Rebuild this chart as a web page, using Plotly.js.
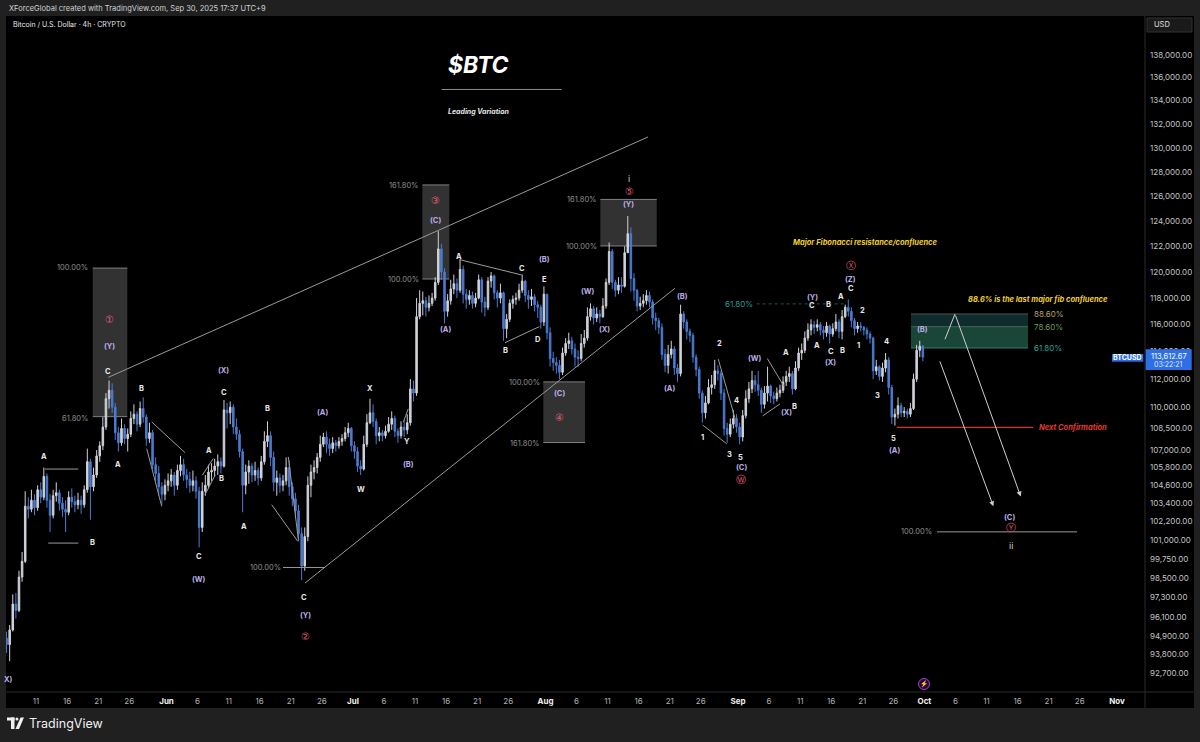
<!DOCTYPE html>
<html><head><meta charset="utf-8">
<script src="https://cdn.plot.ly/plotly-3.0.1.min.js"></script>
<style>html,body{margin:0;padding:0;background:#202020;overflow:hidden}#chart{width:1200px;height:742px}</style>
</head><body><div id="chart"></div>
<script>
// ---------- price data: 12h candles, values in thousands of USD ----------
const firstOpen = 94.8;
const startMay = '2025-05-06', startJun = '2025-06-01', startJul = '2025-07-01', startAug = '2025-08-01', startSep = '2025-09-01';

const closeMay = [94.4,95.3, 96.9,96.5, 98.6,99.6, 103.2,103.0, 103.6,103.1, 104.3,103.8, 105.2,103.6, 102.6,103.9, 104.1,103.4, 103.0,102.8,
  103.8,103.5, 103.3,103.6, 103.3,104.3, 106.2,104.5, 105.3,106.6, 107.3,108.6, 110.6,111.2, 110.0,108.2, 107.5,108.5, 107.8,108.1,
  109.2,109.5, 108.8,109.9, 109.3,107.8, 108.2,106.0, 105.4,104.5, 104.0,104.6];
const highMay = [95.2,95.6, 97.5,97.6, 99.0,100.2, 104.2,103.8, 104.3,104.0, 104.6,104.8, 105.8,105.4, 104.0,104.3, 104.8,104.3, 103.8,103.6,
  104.2,104.4, 103.9,104.1, 103.9,104.6, 107.1,106.4, 105.8,107.0, 107.6,109.3, 111.0,111.9, 111.7,110.3, 108.6,109.2, 108.8,108.5,
  109.7,110.2, 109.7,110.4, 110.7,109.5, 108.9,108.4, 106.5,105.9, 104.8,105.0];
const lowMay = [93.9,93.4, 95.2,96.0, 96.4,98.3, 99.5,102.4, 102.8,102.6, 102.9,103.4, 103.6,103.1, 101.5,102.4, 103.5,102.9, 102.5,101.5,
  102.6,103.1, 102.8,103.0, 102.7,103.1, 104.1,102.3, 104.2,105.1, 106.2,107.0, 108.4,109.9, 109.6,107.7, 106.9,107.3, 107.4,106.9,
  107.9,108.8, 108.3,108.6, 108.9,107.3, 107.5,105.7, 104.9,103.9, 103.3,103.6];

const closeJun = [104.9,105.3, 104.6,105.6, 106.0,105.3, 105.0,104.6, 104.9,104.2, 101.8,104.2, 104.6,105.5, 105.6,105.9, 106.2,105.9, 109.8,109.6,
  110.0,108.6, 108.1,106.9, 104.6,105.5, 105.9,105.3, 105.6,105.1, 106.2,107.6, 108.0,106.5, 104.8,105.1, 104.6,104.9, 105.8,104.5,
  103.7,102.9, 101.4,99.3, 101.2,104.6, 105.5,105.8, 106.5,107.4, 107.9,107.4, 107.1,107.5, 107.3,107.6, 107.8,108.2, 108.5,107.3];
const highJun = [105.4,105.7, 105.5,106.0, 106.6,106.4, 105.7,105.5, 105.6,105.2, 104.5,104.8, 105.3,106.0, 106.1,106.4, 106.7,106.5, 110.5,110.3,
  110.4,110.2, 109.2,108.4, 107.1,106.0, 106.3,106.1, 106.2,105.8, 106.6,108.3, 109.0,108.3, 106.9,105.6, 105.4,105.3, 106.5,106.3,
  104.8,104.1, 103.3,101.8, 101.8,105.2, 106.0,106.3, 106.8,108.0, 108.2,108.3, 107.8,107.9, 107.7,107.9, 108.1,108.6, 108.9,108.6];
const lowJun = [104.2,104.5, 103.9,104.3, 105.2,104.9, 104.4,104.1, 104.2,103.7, 100.5,101.5, 103.9,104.4, 104.9,105.2, 105.3,105.4, 105.8,108.5,
  108.8,108.1, 107.7,106.5, 102.8,104.0, 104.7,104.8, 104.9,104.6, 104.9,106.0, 107.2,105.9, 104.2,103.9, 104.1,104.2, 104.6,103.9,
  103.2,102.4, 100.9,98.4, 99.0,100.9, 103.8,105.0, 105.4,106.2, 107.2,106.8, 106.6,106.8, 106.9,107.1, 107.3,107.6, 107.9,106.9];

const closeJul = [106.9,105.9, 105.7,107.4, 108.9,109.6, 109.0,108.0, 108.2,108.0, 108.3,108.8, 109.2,108.3, 108.0,108.6, 108.4,108.9, 111.3,111.0,
  116.6,117.6, 117.8,117.3, 117.6,118.0, 119.2,121.8, 120.0,117.0, 117.8,118.7, 119.1,118.6, 120.2,118.3, 117.9,118.2, 117.6,118.0,
  119.4,117.7, 117.3,119.3, 119.7,118.4, 118.0,118.4, 115.7,116.4, 117.6,117.9, 118.0,118.6, 119.3,118.2, 117.9,118.1, 117.5,117.3, 116.2,118.3];
const highJul = [107.6,107.2, 106.3,108.0, 109.5,110.6, 110.2,109.2, 108.6,108.4, 108.7,109.3, 109.7,109.4, 108.5,109.0, 109.1,109.5, 112.0,111.9,
  118.0,118.6, 118.5,118.1, 118.2,118.4, 119.6,123.2, 122.2,120.3, 118.3,119.4, 119.8,119.5, 121.0,120.5, 118.7,118.6, 118.5,118.4,
  119.8,119.6, 118.1,119.6, 120.0,119.8, 118.6,119.1, 118.5,116.8, 117.9,118.2, 118.4,119.1, 119.8,119.4, 118.6,118.7, 118.3,117.8, 117.5,118.9];
const lowJul = [106.4,105.5, 105.3,105.6, 107.2,108.8, 108.6,107.4, 107.6,107.6, 107.8,108.2, 108.4,107.9, 107.5,107.8, 107.9,108.1, 108.7,110.4,
  110.8,116.4, 116.7,116.6, 117.0,117.4, 117.8,119.0, 119.4,116.1, 116.6,117.5, 118.3,118.0, 118.4,117.6, 117.2,117.5, 117.2,117.3,
  117.9,116.9, 116.6,117.1, 118.8,117.9, 117.3,117.6, 114.8,115.0, 116.2,117.2, 117.5,117.8, 118.4,117.7, 117.2,117.4, 117.0,116.5, 115.7,115.9];

const closeAug = [115.4,113.5, 113.2,113.0, 112.5,113.9, 114.6,114.8, 114.2,113.6, 113.5,114.6, 115.0,116.6, 117.2,116.5, 116.8,116.6, 117.4,119.2,
  121.6,119.2, 118.6,119.0, 118.9,121.5, 123.0,119.5, 118.6,117.4, 117.6,117.8, 118.2,117.7, 116.5,116.3, 115.8,113.8, 113.0,113.8,
  114.2,112.8, 112.4,116.8, 116.2,115.5, 115.2,113.6, 112.7,111.0, 109.6,110.3, 111.4,111.6, 112.6,112.4, 111.0,108.5, 108.1,108.8, 109.2,108.6];
const highAug = [118.2,115.8, 114.0,113.6, 113.4,114.3, 115.0,115.4, 115.1,114.6, 114.1,115.3, 115.6,117.3, 117.6,117.4, 117.3,117.1, 118.0,119.5,
  122.3,121.8, 119.4,119.6, 119.6,122.0, 124.4,123.5, 119.9,118.7, 118.1,118.3, 118.6,118.5, 117.9,116.9, 116.5,116.1, 114.2,114.5,
  114.8,114.4, 113.1,117.5, 117.0,116.4, 115.7,115.4, 113.8,112.9, 111.2,110.8, 112.0,112.3, 113.4,113.0, 112.6,111.3, 108.9,109.2, 109.8,109.5];
const lowAug = [114.9,112.9, 112.6,112.4, 112.0,112.3, 113.7,114.2, 113.8,112.9, 112.9,113.3, 114.3,114.8, 116.3,116.0, 116.2,116.1, 116.5,117.2,
  119.0,118.7, 118.1,118.3, 118.4,118.8, 121.5,118.5, 117.8,117.0, 117.1,117.3, 117.5,117.3, 116.0,115.6, 115.3,113.4, 112.5,112.4,
  113.5,112.3, 111.8,112.2, 115.7,114.9, 114.7,113.2, 112.2,110.6, 108.9,109.2, 110.2,110.9, 111.3,111.9, 110.5,108.0, 107.5,107.9, 108.5,108.2];

const closeSep = [107.9,109.4, 110.6,111.3, 111.9,111.6, 111.2,110.2, 111.0,111.5, 110.8,110.6, 111.0,111.2, 111.8,112.2, 112.4,111.3, 112.8,113.9,
  114.1,115.0, 115.6,116.0, 115.8,116.0, 115.6,115.4, 115.9,115.3, 115.7,116.2, 115.5,116.6, 117.3,117.0, 116.3,115.7, 115.9,115.8,
  115.6,115.3, 115.0,112.6, 112.9,112.2, 112.8,113.4, 111.4,109.3, 109.5,110.1, 109.6,109.7, 109.5,109.9, 112.0,114.1, 114.4,113.6];
const highSep = [108.9,109.8, 111.2,111.8, 112.6,112.3, 112.6,111.4, 111.5,112.9, 111.6,111.1, 111.4,111.6, 112.2,112.6, 112.9,112.6, 113.3,114.3,
  114.6,115.5, 116.1,116.4, 116.3,116.4, 116.2,115.9, 116.2,116.0, 116.1,116.8, 116.4,117.1, 117.5,117.9, 117.3,116.5, 116.2,116.2,
  115.9,115.8, 115.5,115.1, 113.4,113.0, 113.2,113.9, 113.6,111.6, 109.9,110.7, 110.3,110.0, 109.9,110.3, 112.4,114.5, 114.8,114.5];
const lowSep = [107.4,107.6, 109.2,110.3, 111.0,111.1, 110.8,109.6, 109.9,110.4, 110.3,110.2, 110.4,110.7, 111.0,111.5, 111.8,110.9, 111.2,112.6,
  113.4,113.9, 114.8,115.2, 115.3,115.5, 115.2,114.9, 115.1,114.6, 115.1,115.5, 115.0,114.9, 116.5,116.6, 115.8,115.2, 115.4,115.5,
  115.2,114.9, 114.6,112.0, 112.3,111.9, 111.8,112.5, 110.9,108.8, 108.7,109.2, 109.3,109.3, 109.2,109.3, 109.8,111.8, 113.6,113.3];

const lastPriceText = '113,612.67';
const countdownText = '03:22:21';

// ---------- axis ticks ----------
const priceTicks = [138000,136000,134000,132000,130000,128000,126000,124000,122000,120000,118000,116000,114000,112000,110000,
  108500,107000,105800,104600,103400,102200,101000,99750,98500,97300,96100,94900,93800,92700];
const dateTicks = ['2025-05-11','2025-05-16','2025-05-21','2025-05-26','2025-06-01','2025-06-06','2025-06-11','2025-06-16','2025-06-21','2025-06-26',
  '2025-07-01','2025-07-06','2025-07-11','2025-07-16','2025-07-21','2025-07-26','2025-08-01','2025-08-06','2025-08-11','2025-08-16','2025-08-21','2025-08-26',
  '2025-09-01','2025-09-06','2025-09-11','2025-09-16','2025-09-21','2025-09-26','2025-10-01','2025-10-06','2025-10-11','2025-10-16','2025-10-21','2025-10-26','2025-11-01'];
const dateTickLabels = ['11','16','21','26','Jun','6','11','16','21','26','Jul','6','11','16','21','26','Aug','6','11','16','21','26',
  'Sep','6','11','16','21','26','Oct','6','11','16','21','26','Nov'];

// ---------- wave labels: [time, price (k), text, style] ----------
const waveLabels = [
  ['2025-05-12 08:00',106.59,'A','w'],['2025-05-20 03:00',100.84,'B','w'],['2025-05-22 15:00',112.52,'C','w'],
  ['2025-05-24 06:00',105.98,'A','w'],['2025-05-27 21:30',111.36,'B','w'],['2025-06-07 19:00',106.94,'A','w'],
  ['2025-06-09 22:00',105.05,'B','w'],['2025-06-06 07:00',99.89,'C','w'],['2025-06-10 06:00',111.01,'C','w'],
  ['2025-06-13 11:30',101.85,'A','w'],['2025-06-17 07:00',109.87,'B','w'],['2025-06-23 04:00',97.28,'C','w'],
  ['2025-07-03 18:15',111.33,'X','w'],['2025-07-02 07:30',104.29,'W','w'],['2025-07-09 18:15',107.59,'Y','w'],
  ['2025-07-18 03:10',121.2,'A','w'],['2025-07-28 04:20',120.29,'C','w'],['2025-07-31 18:30',119.39,'E','w'],
  ['2025-07-25 15:30',114.05,'B','w'],['2025-07-30 20:25',114.9,'D','w'],
  ['2025-08-26 07:30',107.9,'1','w'],['2025-08-28 23:35',114.62,'2','w'],['2025-08-30 13:10',106.71,'3','w'],
  ['2025-08-31 16:10',110.44,'4','w'],['2025-09-01 07:40',106.49,'5','w'],
  ['2025-09-10 00:15',110.03,'B','w'],['2025-09-08 17:15',113.94,'A','w'],['2025-09-12 22:50',117.41,'C','w'],
  ['2025-09-15 12:40',117.49,'B','w'],['2025-09-13 18:15',114.49,'A','w'],['2025-09-15 22:00',114.0,'C','w'],
  ['2025-09-17 20:25',114.12,'B','w'],['2025-09-17 13:40',118.11,'A','w'],['2025-09-19 04:20',118.75,'C','w'],
  ['2025-09-21 00:00',117.06,'2','w'],['2025-09-20 08:40',114.49,'1','w'],['2025-09-24 19:40',114.73,'4','w'],
  ['2025-09-23 10:05',110.8,'3','w'],['2025-09-25 23:45',107.83,'5','w'],
  ['2025-05-06 11:45',92.32,'X)','p'],['2025-05-22 19:00',114.39,'(Y)','p'],['2025-06-10 06:00',112.6,'(X)','p'],
  ['2025-06-06 07:00',98.43,'(W)','p'],['2025-06-26 03:30',109.59,'(A)','p'],['2025-06-23 07:00',96.18,'(Y)','p'],
  ['2025-07-09 22:00',106.03,'(B)','p'],['2025-07-14 08:00',124.07,'(C)','p'],['2025-07-15 20:00',115.66,'(A)','p'],
  ['2025-07-31 19:30',121.0,'(B)','p'],['2025-08-07 21:30',118.5,'(W)','p'],['2025-08-10 11:20',115.66,'(X)','p'],
  ['2025-08-14 08:10',125.33,'(Y)','p'],['2025-08-03 05:30',111.0,'(C)','p'],['2025-08-23 00:45',118.16,'(B)','p'],
  ['2025-08-20 21:20',111.36,'(A)','p'],['2025-09-01 11:30',105.78,'(C)','p'],['2025-09-03 17:30',113.5,'(W)','p'],
  ['2025-09-08 20:00',109.63,'(X)','p'],['2025-09-12 22:50',118.06,'(Y)','p'],['2025-09-15 22:00',113.2,'(X)','p'],
  ['2025-09-19 04:20',119.44,'(Z)','p'],['2025-09-26 03:35',106.96,'(A)','p'],['2025-09-30 15:50',115.66,'(B)','p'],
  ['2025-10-14 18:40',102.43,'(C)','p'],
  ['2025-05-22 19:00',116.35,'\u2460','r'],['2025-06-23 07:00',94.88,'\u2461','r'],['2025-07-14 08:00',125.62,'\u2462','r'],
  ['2025-08-03 05:30',109.25,'\u2463','r'],['2025-08-14 10:50',126.38,'\u2464','r'],['2025-09-01 11:30',105.0,'\u24CC','r'],
  ['2025-09-19 04:20',120.47,'\u24CD','r'],['2025-10-14 21:20',101.78,'\u24CE','r'],
  ['2025-08-14 10:50',127.45,'i','i'],['2025-10-14 21:20',100.62,'ii','i'],
  ['2025-05-16 19:00',120.31,'100.00%','g'],['2025-05-17 06:30',109.23,'61.80%','g'],['2025-06-16 20:30',99.19,'100.00%','g'],
  ['2025-07-09 01:40',126.84,'161.80%','g'],['2025-07-09 01:40',119.46,'100.00%','g'],['2025-08-06 17:20',125.70,'161.80%','g'],
  ['2025-08-06 17:20',121.97,'100.00%','g'],['2025-07-28 13:10',111.76,'100.00%','g'],['2025-07-28 13:10',107.47,'161.80%','g'],
  ['2025-09-29 19:10',101.51,'100.00%','g'],['2025-09-01 03:50',117.56,'61.80%','t']
];

// fib zone levels
const zoneStart = '2025-09-28 20:10', zoneEnd = '2025-10-17 16:20', zoneLabelAt = '2025-10-18 08:00';
const zoneLevels = [116.80, 115.85, 114.27];
const zoneNames = ['88.60%', '78.60%', '61.80%'];

// gray fib boxes [x0, x1, lowK, highK]
const fibBoxes = [
  ['2025-05-20 03:00','2025-05-25 16:30',109.33,120.30],
  ['2025-07-12 04:15','2025-07-16 12:30',119.46,126.92],
  ['2025-07-31 15:40','2025-08-07 08:50',107.52,111.80],
  ['2025-08-09 20:00','2025-08-18 21:50',122.03,125.74]
];
// drawn lines [t0, p0, t1, p1, style]
const drawnLines = [
  ['2025-05-22 15:00',112.13,'2025-08-17 12:15',130.90,'c'],
  ['2025-06-23 07:00',98.22,'2025-08-21 20:30',118.75,'c'],
  ['2025-06-19 18:00',99.21,'2025-06-26 12:15',99.21,'c'],
  ['2025-05-12 10:30',105.70,'2025-05-17 19:00',105.70,'c'],
  ['2025-05-12 23:00',100.78,'2025-05-17 19:00',100.78,'c'],
  ['2025-05-29 15:00',108.95,'2025-06-03 23:30',106.82,'c'],
  ['2025-05-28 19:30',107.10,'2025-05-31 05:30',103.19,'c'],
  ['2025-06-06 18:15',105.28,'2025-06-08 12:45',106.42,'c'],
  ['2025-06-07 04:45',103.97,'2025-06-08 19:30',105.28,'c'],
  ['2025-06-17 22:20',103.30,'2025-06-22 03:00',100.89,'c'],
  ['2025-06-20 14:40',106.53,'2025-06-22 05:15',100.99,'c'],
  ['2025-07-18 05:50',120.95,'2025-07-28 04:20',119.77,'c'],
  ['2025-07-25 11:45',114.66,'2025-07-31 00:15',115.85,'c'],
  ['2025-07-09 03:00',108.95,'2025-07-09 22:00',109.88,'c'],
  ['2025-08-26 07:30',108.74,'2025-08-30 04:20',107.43,'c'],
  ['2025-08-28 19:40',113.45,'2025-08-31 12:15',109.21,'c'],
  ['2025-09-05 17:00',113.50,'2025-09-08 09:35',111.48,'c'],
  ['2025-09-04 23:20',109.38,'2025-09-07 18:00',110.23,'c'],
  ['2025-10-03 00:45',101.51,'2025-10-25 13:40',101.51,'c'],
  ['2025-10-04 07:30',114.91,'2025-10-05 22:05',116.80,'a'],
  ['2025-09-04 00:00',117.56,'2025-09-18 11:45',117.56,'t'],
  ['2025-09-26 14:10',108.58,'2025-10-18 11:45',108.58,'r']
];
// projection arrows [tailT, tailP, headT, headP]
const arrows = [
  ['2025-10-05 22:05',116.80,'2025-10-16 12:00',103.85],
  ['2025-10-03 09:40',113.40,'2025-10-12 02:25',103.20]
];
const notes = [
  ['2025-09-21 12:30',122.29,'<b><i>Major Fibonacci resistance/confluence</i></b>','y','center'],
  ['2025-10-19 07:00',117.86,'<b><i>88.6% is the last major fib confluence</i></b>','y','center'],
  ['2025-10-19 03:10',108.58,'<b><i>Next Confirmation</i></b>','red','left']
];

// ---------- build candles ----------
const months = [[startMay,closeMay,highMay,lowMay],[startJun,closeJun,highJun,lowJun],[startJul,closeJul,highJul,lowJul],
  [startAug,closeAug,highAug,lowAug],[startSep,closeSep,highSep,lowSep]];
const X=[],O=[],H=[],L=[],C=[];
let prev = firstOpen;
months.forEach(([s,c,h,l])=>{
  const t0 = Date.parse(s+'T00:00:00Z');
  c.forEach((cv,i)=>{
    const t = new Date(t0 + (i*12+6)*3600e3);
    X.push(t.toISOString().slice(0,16).replace('T',' '));
    O.push(prev*1000); C.push(cv*1000);
    H.push(Math.max(h[i],prev,cv)*1000); L.push(Math.min(l[i],prev,cv)*1000);
    prev = cv;
  });
});

const FONT = 'Inter, "Liberation Sans", Arial, sans-serif';
const lg = p => Math.log10(p*1000);
const fmt = v => v.toFixed(2).replace(/\B(?=(\d{3})+(?!\d))/g, ',');

const styles = {
  w:{size:7.5,color:'#e8e8e8',txt:t=>'<b>'+t+'</b>'},
  p:{size:7.5,color:'#bcaee6',txt:t=>'<b>'+t+'</b>'},
  r:{size:10,color:'#e35d7a',txt:t=>t,family:'"DejaVu Sans", sans-serif'},
  i:{size:9,color:'#d0d0d0',txt:t=>t},
  g:{size:7.5,color:'#8e8e8e',txt:t=>t},
  t:{size:8,color:'#2a9d8f',txt:t=>t}
};

const annotations = [];
waveLabels.forEach(([d,p,t,s])=>{
  const st = styles[s];
  annotations.push({x:d,y:lg(p),xref:'x',yref:'y',text:st.txt(t),showarrow:false,xanchor:'center',yanchor:'middle',
    font:{size:st.size,color:st.color,family:st.family||FONT}});
});
const zoneColors = ['#b3a36a','#72995c','#26a69a'];
zoneLevels.forEach((p,i)=>annotations.push({x:zoneLabelAt,y:lg(p),xref:'x',yref:'y',text:zoneNames[i],showarrow:false,
  xanchor:'left',yanchor:'middle',font:{size:8,color:zoneColors[i],family:FONT}}));
const noteColors = {y:'#f0cf2a',red:'#e03838'};
notes.forEach(([d,p,t,c,a])=>annotations.push({x:d,y:lg(p),xref:'x',yref:'y',text:t,showarrow:false,xanchor:a,yanchor:'middle',
  font:{size:7.5,color:noteColors[c],family:FONT}}));
arrows.forEach(([t0,p0,t1,p1])=>annotations.push({x:t1,y:lg(p1),ax:t0,ay:lg(p0),xref:'x',yref:'y',axref:'x',ayref:'y',text:'',
  showarrow:true,arrowhead:2,arrowsize:1,arrowwidth:1,arrowcolor:'#cfcfcf',standoff:0,startstandoff:0}));

// page chrome (paper coords)
const paperText = (x,y,t,size,color,anchor,extra)=>Object.assign({x,y,xref:'paper',yref:'paper',text:t,showarrow:false,
  xanchor:anchor,yanchor:'middle',font:{size,color,family:FONT}},extra||{});
annotations.push(paperText(0.0006,1.0118,'XForceGlobal created with TradingView.com, Sep 30, 2025 17:37 UTC+9',7.5,'#cfd2d8','left'));
annotations.push(paperText(0.0041,0.9874,'Bitcoin / U.S. Dollar · 4h · CRYPTO',7,'#e8e8e8','left'));
annotations.push(paperText(0.3863,0.9275,'<b><i>$BTC</i></b>',23,'#ffffff','left'));
annotations.push(paperText(0.3863,0.8580,'<b><i>Leading Variation</i></b>',7,'#e8e8e8','left'));
annotations.push(paperText(0.0184,-0.0459,'TradingView',12.5,'#f0f0f0','left'));
annotations.push(paperText(1.0062,0.9867,'USD',7.5,'#e0e0e0','left'));
annotations.push(paperText(0.9847,0.4942,'<b>BTCUSD</b>',7,'#ffffff','center'));
annotations.push(paperText(1.0208,0.4960,lastPriceText,7.5,'#ffffff','center'));
annotations.push(paperText(1.0208,0.4838,countdownText,7,'#dfe8ff','center'));
annotations.push(paperText(0.8060,0.0118,'\u26A1',6.5,'#b45ce0','center'));

// ---------- shapes ----------
const shapes = [];
shapes.push({type:'rect',xref:'paper',yref:'paper',x0:0,x1:1.04302,y0:-0.02367,y1:1,fillcolor:'#000',line:{width:0},layer:'below'});
fibBoxes.forEach(([x0,x1,lo,hi])=>{
  shapes.push({type:'rect',xref:'x',yref:'y',x0,x1,y0:lo*1000,y1:hi*1000,fillcolor:'rgba(120,120,120,0.42)',line:{width:0},layer:'below'});
  shapes.push({type:'line',xref:'x',yref:'y',x0,x1,y0:lo*1000,y1:lo*1000,line:{color:'#808080',width:1},layer:'below'});
  shapes.push({type:'line',xref:'x',yref:'y',x0,x1,y0:hi*1000,y1:hi*1000,line:{color:'#808080',width:1},layer:'below'});
});
shapes.push({type:'rect',xref:'x',yref:'y',x0:zoneStart,x1:zoneEnd,y0:zoneLevels[1]*1000,y1:zoneLevels[0]*1000,fillcolor:'#0f2c2d',line:{width:0},layer:'below'});
shapes.push({type:'rect',xref:'x',yref:'y',x0:zoneStart,x1:zoneEnd,y0:zoneLevels[2]*1000,y1:zoneLevels[1]*1000,fillcolor:'#1a4638',line:{width:0},layer:'below'});
['#4a5a4a','#3f6a4e','#2b7d72'].forEach((c,i)=>shapes.push({type:'line',xref:'x',yref:'y',x0:zoneStart,x1:zoneEnd,
  y0:zoneLevels[i]*1000,y1:zoneLevels[i]*1000,line:{color:c,width:1},layer:'below'}));
const lineStyles = {c:{color:'#9a9a9a',width:1},a:{color:'#cfcfcf',width:1},t:{color:'#1e5a55',width:1,dash:'dot'},r:{color:'#d93030',width:1.2}};
drawnLines.forEach(([t0,p0,t1,p1,s])=>shapes.push({type:'line',xref:'x',yref:'y',x0:t0,y0:p0*1000,x1:t1,y1:p1*1000,line:lineStyles[s],layer:'above'}));
// axis separators
shapes.push({type:'line',xref:'paper',yref:'paper',x0:1,x1:1,y0:-0.02367,y1:1,line:{color:'#2a2a2a',width:1}});
shapes.push({type:'line',xref:'paper',yref:'paper',x0:0,x1:1.04302,y0:0,y1:0,line:{color:'#2a2a2a',width:1}});
// title underline
shapes.push({type:'line',xref:'paper',yref:'paper',x0:0.3825,x1:0.4879,y0:0.8913,y1:0.8913,line:{color:'#8a8a8a',width:1}});
// USD box & last price tags
shapes.push({type:'rect',xref:'paper',yref:'paper',x0:1.00176,x1:1.04126,y0:0.97633,y1:0.99704,fillcolor:'#1a1a1a',line:{color:'#333',width:1}});
shapes.push({type:'rect',xref:'paper',yref:'paper',x0:0.97103,x1:0.99851,y0:0.48861,y1:0.5,fillcolor:'#2f6fe6',line:{width:0},layer:'above'});
shapes.push({type:'rect',xref:'paper',yref:'paper',x0:1.00061,x1:1.04100,y0:0.47633,y1:0.50695,fillcolor:'#2f6fe6',line:{width:0},layer:'above'});
// event icon
shapes.push({type:'circle',xref:'paper',yref:'paper',x0:0.80114,x1:0.81080,y0:0.00369,y1:0.01997,line:{color:'#9b3fd0',width:1},fillcolor:'rgba(80,20,110,0.5)'});
// TradingView logo mark
shapes.push({type:'rect',xref:'paper',yref:'paper',x0:0.00088,x1:0.00746,y0:-0.04216,y1:-0.03772,fillcolor:'#f0f0f0',line:{width:0}});
shapes.push({type:'rect',xref:'paper',yref:'paper',x0:0.00439,x1:0.00746,y0:-0.05473,y1:-0.03772,fillcolor:'#f0f0f0',line:{width:0}});
shapes.push({type:'circle',xref:'paper',yref:'paper',x0:0.00830,x1:0.01093,y0:-0.04216,y1:-0.03772,fillcolor:'#f0f0f0',line:{width:0}});
shapes.push({type:'path',xref:'paper',yref:'paper',path:'M0.01273,-0.03772 L0.01580,-0.03772 L0.01141,-0.05473 L0.00834,-0.05473 Z',fillcolor:'#f0f0f0',line:{width:0}});

const trace = {
  type:'candlestick', x:X, open:O, high:H, low:L, close:C,
  increasing:{line:{color:'#cfd2d8',width:1},fillcolor:'#cfd2d8'},
  decreasing:{line:{color:'#4b7bd0',width:1},fillcolor:'#4b7bd0'},
  whiskerwidth:0, hoverinfo:'skip', showlegend:false
};

const layout = {
  width:1200, height:742,
  margin:{l:6,r:55,t:16,b:50,pad:0},
  paper_bgcolor:'#202020', plot_bgcolor:'#000',
  font:{family:FONT,color:'#c8c8c8'},
  showlegend:false, hovermode:false, dragmode:false,
  xaxis:{type:'date',range:['2025-05-06 03:50','2025-11-05 12:15'],showgrid:false,zeroline:false,showline:false,
    rangeslider:{visible:false},tickmode:'array',tickvals:dateTicks,
    ticktext:dateTickLabels.map(t=>/^[A-Z]/.test(t)?'<b><span style="color:#f0f0f0">'+t+'</span></b>':t),
    tickfont:{size:8,color:'#b0b0b0',family:FONT},ticks:'',ticklabelstandoff:3,fixedrange:true},
  yaxis:{type:'log',side:'right',range:[4.96173,5.15077],showgrid:false,zeroline:false,showline:false,
    tickmode:'array',tickvals:priceTicks,ticktext:priceTicks.map(fmt),tickfont:{size:8,color:'#c4c4c4',family:FONT},
    ticks:'',ticklabelstandoff:4,fixedrange:true},
  shapes, annotations
};

Plotly.newPlot('chart',[trace],layout,{staticPlot:true,displayModeBar:false});
</script></body></html>
